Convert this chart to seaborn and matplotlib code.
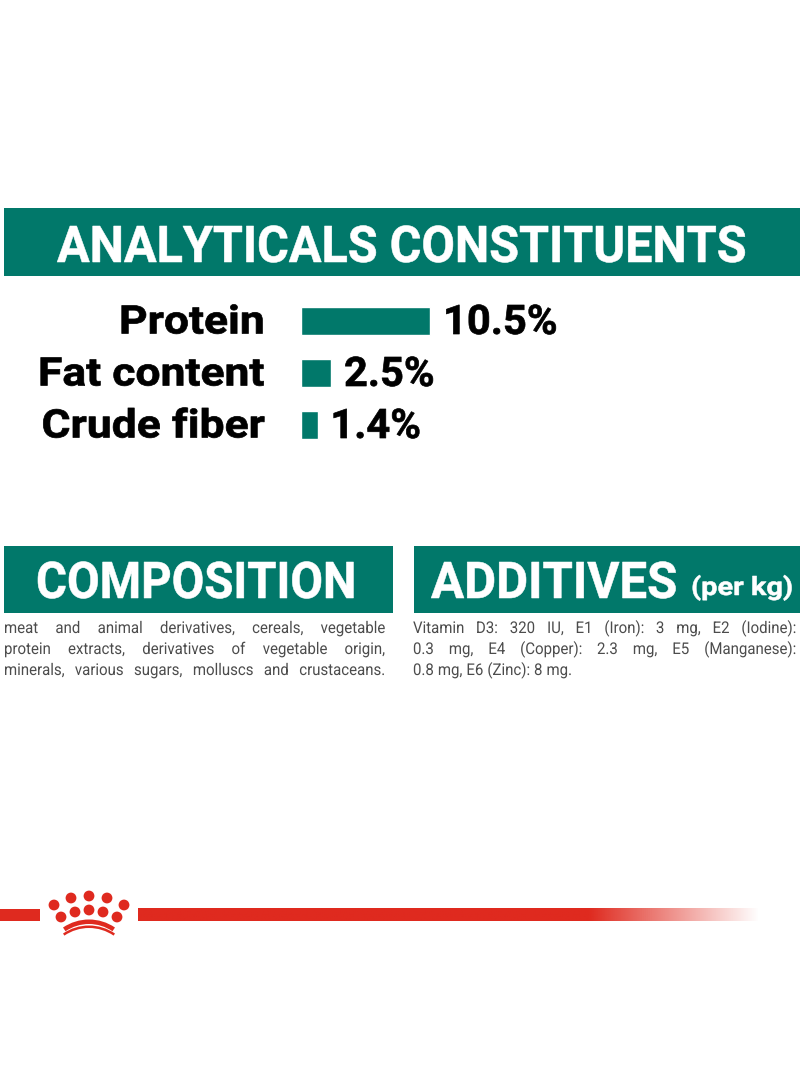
import numpy as np
import pandas as pd
import seaborn as sns
import matplotlib.pyplot as plt
from matplotlib.patches import Rectangle, Circle, Wedge
from matplotlib.patheffects import AbstractPathEffect
from matplotlib.transforms import Affine2D

# chart values
nutrients = ["Protein", "Fat content", "Crude fiber"]
percents = [10.5, 2.5, 1.4]
value_labels = ["10.5%", "2.5%", "1.4%"]

title_main = "ANALYTICALS CONSTITUENTS"
title_left = "COMPOSITION"
title_right = "ADDITIVES"
title_right_small = "(per kg)"

composition_lines = [
    "meat and animal derivatives, cereals, vegetable",
    "protein extracts, derivatives of vegetable origin,",
    "minerals, various sugars, molluscs and crustaceans.",
]
additives_lines = [
    "Vitamin D3: 320 IU, E1 (Iron): 3 mg, E2 (Iodine):",
    "0.3 mg, E4 (Copper): 2.3 mg, E5 (Manganese):",
    "0.8 mg, E6 (Zinc): 8 mg.",
]

W, H = 800, 1091
TEAL = "#01786a"
RED = "#df2a1f"
FONT = "Roboto"
CAP = 0.711  # Roboto cap height per em

sns.set_theme(style="white")
plt.rcParams["font.family"] = [FONT, "DejaVu Sans"]


class Tall(AbstractPathEffect):
    # no condensed font installed: stretch glyphs upward from the baseline, fatten a bit
    def __init__(self, k, dy=0, fat=0.0, color="black"):
        super().__init__()
        self.k, self.dy, self.fat, self.color = k, dy, fat, color

    def draw_path(self, renderer, gc, tpath, affine, rgbFace=None):
        tr = Affine2D().scale(1, self.k) + affine + Affine2D().translate(0, self.dy)
        gc0 = renderer.new_gc()
        gc0.copy_properties(gc)
        if self.fat:
            gc0.set_linewidth(self.fat)
            gc0.set_foreground(self.color)
        else:
            gc0.set_linewidth(0)
        renderer.draw_path(gc0, tpath, tr, rgbFace)
        gc0.restore()


def stretch_for(size, cap_px):
    return cap_px / (size * 100 / 72 * CAP)


fig = plt.figure(figsize=(W / 100, H / 100), dpi=100, facecolor="white")

# background layer in pixel coordinates
bg = fig.add_axes([0, 0, 1, 1])
bg.set_xlim(0, W)
bg.set_ylim(H, 0)
bg.axis("off")

for x0, x1, y0, y1 in [(4, 800, 208, 276), (4, 393, 546, 613), (414, 800, 546, 613)]:
    bg.add_patch(Rectangle((x0, y0), x1 - x0, y1 - y0, color=TEAL, lw=0))


def fit_title(x, baseline, s, width, cap_px, fat=0.4):
    # font size from the width, glyph height from the stretch
    t = bg.text(x, baseline, s, fontsize=30, fontweight="bold", va="baseline", ha="left", color="white")
    r = fig.canvas.get_renderer()
    size = 30 * width / t.get_window_extent(r).width
    t.set_fontsize(size)
    t.set_path_effects([Tall(stretch_for(size, cap_px), fat=fat, color="white")])
    return t


fit_title(57, 262, title_main, 689, 36)
fit_title(36, 598, title_left, 320, 36)
fit_title(431, 598, title_right, 246, 36)
fit_title(691, 595, title_right_small, 102, 18, fat=0.4)


def justified(x0, x1, y, line, stretch=True):
    # word by word so the lines run the full column width
    r = fig.canvas.get_renderer()
    words = line.split(" ")
    items = [bg.text(0, y, w, fontsize=10.8, color="#4c4c4c", va="baseline",
                     path_effects=[Tall(1.08)]) for w in words]
    widths = [i.get_window_extent(r).width for i in items]
    if stretch and len(words) > 1:
        gap = (x1 - x0 - sum(widths)) / (len(words) - 1)
    else:
        gap = 4
    x = x0
    for item, w in zip(items, widths):
        item.set_x(x)
        x += w + gap


for i, line in enumerate(composition_lines):
    justified(4, 385, 633 + 21 * i, line)
for i, line in enumerate(additives_lines):
    justified(413, 796, 633 + 21 * i, line, stretch=i < 2)

# red ribbon with the fade at the right end
bg.add_patch(Rectangle((0, 908.5), 40, 12.5, color=RED, lw=0))
rgb = np.array(plt.matplotlib.colors.to_rgb(RED))
fade = np.ones((1, 300, 4))
fade[..., :3] = rgb
fade[0, :, 3] = np.clip((760 - np.linspace(138, 760, 300)) / 170, 0, 1)
bg.imshow(fade, extent=(138, 760, 921, 908.5), aspect="auto", zorder=2)
bg.set_xlim(0, W)
bg.set_ylim(H, 0)

# crown
crown_x = [54, 71, 89, 107, 124, 61, 75, 89, 103, 117]
crown_y = [905, 898, 896, 898, 905, 917, 912, 910, 912, 917]
for cx, cy in zip(crown_x, crown_y):
    bg.add_patch(Circle((cx, cy), 5.4, color=RED, lw=0))
bg.add_patch(Wedge((89, 965.5), 46, 235.6, 304.4, width=4.5, color=RED, lw=0))
bg.add_patch(Wedge((89, 971.5), 46, 235.6, 304.4, width=2.5, color=RED, lw=0))

# the bars, zero at x=301, 12.38 px per percentage point
ax = fig.add_axes([300.5 / W, 1 - 451 / H, 247.6 / W, 156 / H])
ax.patch.set_alpha(0)
df = pd.DataFrame({"nutrient": nutrients, "percent": percents})
sns.barplot(data=df, x="percent", y="nutrient", color=TEAL, saturation=1, width=0.52, ax=ax)
ax.set_xlim(0, 20)
ax.set_xlabel("")
ax.set_ylabel("")
ax.set_xticks([])
sns.despine(ax=ax, left=True, bottom=True)
ax.tick_params(axis="y", length=0, pad=25.5)
for lab in ax.get_yticklabels():
    lab.set_fontsize(32)
    lab.set_fontweight("bold")
    lab.set_color("black")
    lab.set_va("baseline")
    lab.set_path_effects([Tall(stretch_for(32, 28), dy=-12.5, fat=0.5)])
vals = ax.bar_label(ax.containers[0], labels=value_labels, padding=9, fontsize=30,
                    fontweight="bold", color="black")
for v in vals:
    v.set_va("baseline")
    v.set_path_effects([Tall(stretch_for(30, 29), dy=-13, fat=0.5)])

fig.savefig("out.png", dpi=100)
